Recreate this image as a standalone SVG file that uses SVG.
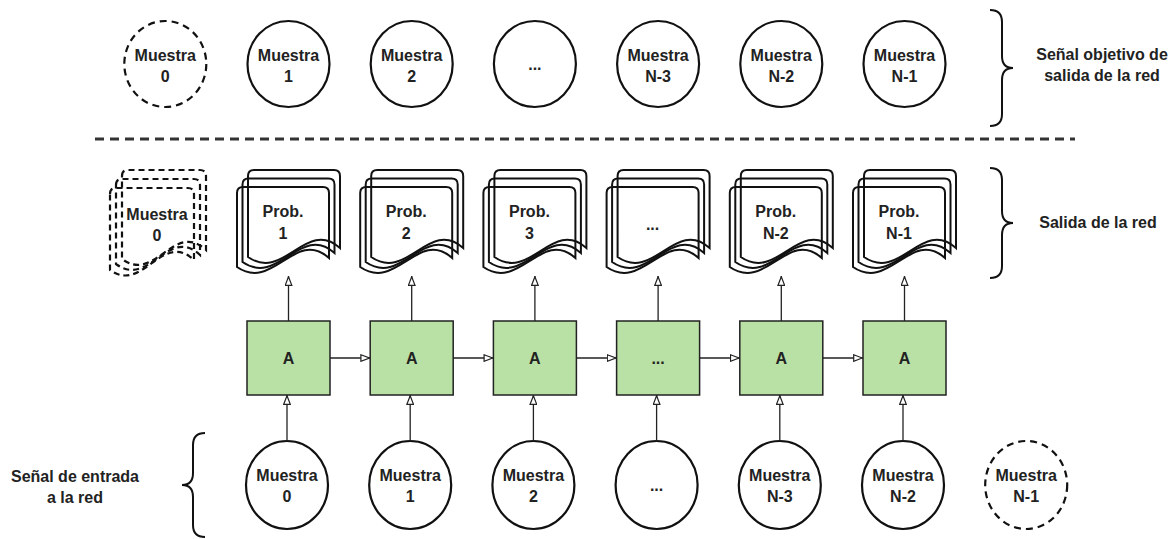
<svg xmlns="http://www.w3.org/2000/svg" width="1175" height="539" viewBox="0 0 1175 539">
  <style>
    text { font-family: "Liberation Sans", Arial, sans-serif; font-weight: bold; font-size: 16px; fill: #222; text-anchor: middle; }
    .sample { fill: #ffffff; stroke: #111; stroke-width: 2.2; }
    .ghost { fill: #ffffff; stroke: #111; stroke-width: 2.2; stroke-dasharray: 7 5; }
    .page { fill: none; stroke: #111; stroke-width: 2; }
    .ghostpage { fill: none; stroke: #111; stroke-width: 2.2; stroke-dasharray: 6 4; }
    .cell { fill: #b9e0a5; stroke: #222; stroke-width: 1.5; }
    .wire { fill: none; stroke: #222; stroke-width: 1.3; }
    .brace { fill: none; stroke: #111; stroke-width: 2; }
    .split { stroke: #333; stroke-width: 3; stroke-dasharray: 9 6; }
  </style>
  <defs>
    <marker id="open" viewBox="0 0 10 8" refX="10" refY="4" markerWidth="10" markerHeight="8" markerUnits="userSpaceOnUse" orient="auto">
      <path d="M0.7,0.7 L9.3,4 L0.7,7.3 Z" fill="#fff" stroke="#222" stroke-width="1.2"/>
    </marker>
    <!-- sheets of the stacked document: 92 wide, wavy bottom -->
    <path id="sheetBack" d="M0,6 Q0,0 6,0 H86 Q92,0 92,6 V78 C58,48 36,112 0,87 Z"/>
    <path id="sheetMid" d="M0,6 Q0,0 6,0 H86 Q92,0 92,6 V74.5 C58,44.5 36,108.5 0,83.5 Z"/>
    <path id="sheetFront" d="M0,6 Q0,0 6,0 H86 Q92,0 92,6 V71 C58,41 36,105 0,80 Z"/>
    <g id="stack">
      <use href="#sheetBack" x="11" y="0" class="page"/>
      <use href="#sheetMid" x="5.5" y="8.5" class="page"/>
      <use href="#sheetFront" x="0" y="17" class="page"/>
    </g>
    <path id="gSheetBack" d="M0,6 Q0,0 6,0 H78 Q84,0 84,6 V80 C52,50 33,114 0,89 Z"/>
    <path id="gSheetMid" d="M0,6 Q0,0 6,0 H78 Q84,0 84,6 V76 C52,46 33,110 0,85 Z"/>
    <path id="gSheetFront" d="M0,6 Q0,0 6,0 H78 Q84,0 84,6 V72 C52,42 33,106 0,82 Z"/>
  </defs>

  <rect width="1175" height="539" fill="#ffffff"/>

  <!-- target signal row -->
  <g id="target0"><ellipse class="ghost" cx="165.3" cy="64" rx="41" ry="43"/><text x="165.3" y="61">Muestra</text><text x="165.3" y="82">0</text></g>
  <g id="target1"><ellipse class="sample" cx="288.5" cy="64" rx="41" ry="43"/><text x="288.5" y="61">Muestra</text><text x="288.5" y="82">1</text></g>
  <g id="target2"><ellipse class="sample" cx="411.7" cy="64" rx="41" ry="43"/><text x="411.7" y="61">Muestra</text><text x="411.7" y="82">2</text></g>
  <g id="target3"><ellipse class="sample" cx="534.9" cy="64" rx="41" ry="43"/><text x="534.9" y="70">...</text></g>
  <g id="target4"><ellipse class="sample" cx="658.1" cy="64" rx="41" ry="43"/><text x="658.1" y="61">Muestra</text><text x="658.1" y="82">N-3</text></g>
  <g id="target5"><ellipse class="sample" cx="781.3" cy="64" rx="41" ry="43"/><text x="781.3" y="61">Muestra</text><text x="781.3" y="82">N-2</text></g>
  <g id="target6"><ellipse class="sample" cx="904.5" cy="64" rx="41" ry="43"/><text x="904.5" y="61">Muestra</text><text x="904.5" y="82">N-1</text></g>

  <g id="targetLabel">
    <path class="brace" d="M990,10 Q1002,10 1002,22 V56 Q1002,68 1013,68 Q1002,68 1002,80 V114 Q1002,126 990,126"/>
    <text x="1102" y="60">Señal objetivo de</text>
    <text x="1102" y="81">salida de la red</text>
  </g>

  <line class="split" x1="95" y1="139" x2="1075" y2="139"/>

  <!-- network output: stacked probability sheets -->
  <g id="out0">
    <use href="#gSheetBack" x="122" y="170" class="ghostpage"/>
    <use href="#gSheetMid" x="116" y="179" class="ghostpage"/>
    <use href="#gSheetFront" x="110" y="188" class="ghostpage"/>
    <text x="157" y="220">Muestra</text><text x="157" y="241">0</text>
  </g>
  <g id="out1"><use href="#stack" x="237" y="170"/><text x="283" y="217">Prob.</text><text x="283" y="239">1</text></g>
  <g id="out2"><use href="#stack" x="360.2" y="170"/><text x="406.2" y="217">Prob.</text><text x="406.2" y="239">2</text></g>
  <g id="out3"><use href="#stack" x="483.4" y="170"/><text x="529.4" y="217">Prob.</text><text x="529.4" y="239">3</text></g>
  <g id="out4"><use href="#stack" x="606.6" y="170"/><text x="652.6" y="230">...</text></g>
  <g id="out5"><use href="#stack" x="729.8" y="170"/><text x="775.8" y="217">Prob.</text><text x="775.8" y="239">N-2</text></g>
  <g id="out6"><use href="#stack" x="853" y="170"/><text x="899" y="217">Prob.</text><text x="899" y="239">N-1</text></g>

  <g id="outLabel">
    <path class="brace" d="M990,168 Q1002,168 1002,180 V211 Q1002,223 1013,223 Q1002,223 1002,235 V266 Q1002,278 990,278"/>
    <text x="1098" y="228">Salida de la red</text>
  </g>

  <!-- recurrent cells -->
  <g id="cell1"><rect class="cell" x="247" y="321" width="83" height="74"/><text x="288.5" y="364">A</text></g>
  <g id="cell2"><rect class="cell" x="370.2" y="321" width="83" height="74"/><text x="411.7" y="364">A</text></g>
  <g id="cell3"><rect class="cell" x="493.4" y="321" width="83" height="74"/><text x="534.9" y="364">A</text></g>
  <g id="cell4"><rect class="cell" x="616.6" y="321" width="83" height="74"/><text x="658.1" y="364">...</text></g>
  <g id="cell5"><rect class="cell" x="739.8" y="321" width="83" height="74"/><text x="781.3" y="364">A</text></g>
  <g id="cell6"><rect class="cell" x="863" y="321" width="83" height="74"/><text x="904.5" y="364">A</text></g>

  <!-- input signal row -->
  <g id="in0"><ellipse class="sample" cx="287" cy="485" rx="41" ry="44"/><text x="287" y="481">Muestra</text><text x="287" y="502">0</text></g>
  <g id="in1"><ellipse class="sample" cx="410.2" cy="485" rx="41" ry="44"/><text x="410.2" y="481">Muestra</text><text x="410.2" y="502">1</text></g>
  <g id="in2"><ellipse class="sample" cx="533.4" cy="485" rx="41" ry="44"/><text x="533.4" y="481">Muestra</text><text x="533.4" y="502">2</text></g>
  <g id="in3"><ellipse class="sample" cx="656.6" cy="485" rx="41" ry="44"/><text x="656.6" y="491">...</text></g>
  <g id="in4"><ellipse class="sample" cx="779.8" cy="485" rx="41" ry="44"/><text x="779.8" y="481">Muestra</text><text x="779.8" y="502">N-3</text></g>
  <g id="in5"><ellipse class="sample" cx="903" cy="485" rx="41" ry="44"/><text x="903" y="481">Muestra</text><text x="903" y="502">N-2</text></g>
  <g id="in6"><ellipse class="ghost" cx="1026.2" cy="485" rx="41" ry="44"/><text x="1026.2" y="481">Muestra</text><text x="1026.2" y="502">N-1</text></g>

  <g id="inLabel">
    <path class="brace" d="M205,433 Q193,433 193,445 V473 Q193,485 182,485 Q193,485 193,497 V525 Q193,537 205,537"/>
    <text x="75" y="482">Señal de entrada</text>
    <text x="75" y="503">a la red</text>
  </g>

  <!-- connectors -->
  <g id="connectors" class="wire">
    <!-- input samples into cells -->
    <line x1="287" y1="441" x2="287" y2="395" marker-end="url(#open)"/>
    <line x1="410.2" y1="441" x2="410.2" y2="395" marker-end="url(#open)"/>
    <line x1="533.4" y1="441" x2="533.4" y2="395" marker-end="url(#open)"/>
    <line x1="656.6" y1="441" x2="656.6" y2="395" marker-end="url(#open)"/>
    <line x1="779.8" y1="441" x2="779.8" y2="395" marker-end="url(#open)"/>
    <line x1="903" y1="441" x2="903" y2="395" marker-end="url(#open)"/>
    <!-- cells up to output sheets -->
    <line x1="288.5" y1="321" x2="288.5" y2="276" marker-end="url(#open)"/>
    <line x1="411.7" y1="321" x2="411.7" y2="276" marker-end="url(#open)"/>
    <line x1="534.9" y1="321" x2="534.9" y2="276" marker-end="url(#open)"/>
    <line x1="658.1" y1="321" x2="658.1" y2="276" marker-end="url(#open)"/>
    <line x1="781.3" y1="321" x2="781.3" y2="276" marker-end="url(#open)"/>
    <line x1="904.5" y1="321" x2="904.5" y2="276" marker-end="url(#open)"/>
    <!-- hidden state passed along the chain -->
    <line x1="330" y1="358" x2="370.2" y2="358" marker-end="url(#open)"/>
    <line x1="453.2" y1="358" x2="493.4" y2="358" marker-end="url(#open)"/>
    <line x1="576.4" y1="358" x2="616.6" y2="358" marker-end="url(#open)"/>
    <line x1="699.6" y1="358" x2="739.8" y2="358" marker-end="url(#open)"/>
    <line x1="822.8" y1="358" x2="863" y2="358" marker-end="url(#open)"/>
  </g>
</svg>
